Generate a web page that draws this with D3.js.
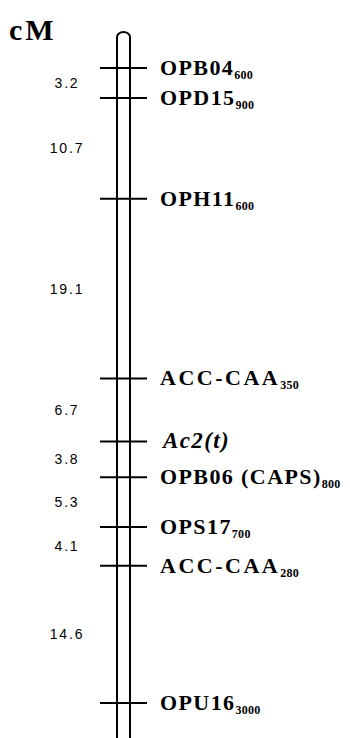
<!DOCTYPE html>
<html>
<head>
<meta charset="utf-8">
<script src="https://cdn.jsdelivr.net/npm/d3@7"></script>
<style>
  body { margin: 0; background: #fff; }
  svg { display: block; }
</style>
</head>
<body>
<svg id="map"></svg>
<script>
// Linkage map data (marker names, fragment sizes, distances in cM)
const markerNames = ['OPB04', 'OPD15', 'OPH11', 'ACC-CAA', 'Ac2(t)', 'OPB06 (CAPS)', 'OPS17', 'ACC-CAA', 'OPU16'];
const fragmentSizes = ['600', '900', '600', '350', '', '800', '700', '280', '3000'];
const intervals = [3.2, 10.7, 19.1, 6.7, 3.8, 5.3, 4.1, 14.6];
const geneLocus = 'Ac2(t)';

const width = 350, height = 738;

const svg = d3.select('#map')
    .attr('width', width)
    .attr('height', height);

// cumulative positions of each marker
const positions = [0, ...d3.cumsum(intervals)];

const y = d3.scaleLinear()
    .domain([0, d3.max(positions)])
    .range([68, 703]);

const chrLeft = 117, chrRight = 130;

// unit label
svg.append('text')
    .attr('x', 9)
    .attr('y', 40)
    .attr('font-family', '"Liberation Serif", "Times New Roman", serif')
    .attr('font-weight', 'bold')
    .attr('font-size', 30)
    .attr('letter-spacing', 3)
    .text('cM');

// chromosome outline, open at the bottom
svg.append('path')
    .attr('d', `M${chrLeft},${height + 2} L${chrLeft},37 A6.5,5 0 0 1 ${chrRight},37 L${chrRight},${height + 2}`)
    .attr('fill', 'none')
    .attr('stroke', '#000')
    .attr('stroke-width', 2);

// marker ticks
svg.selectAll('.tick')
    .data(positions)
    .enter()
    .append('line')
    .attr('class', 'tick')
    .attr('x1', 100)
    .attr('x2', 147)
    .attr('y1', d => y(d))
    .attr('y2', d => y(d))
    .attr('stroke', '#000')
    .attr('stroke-width', 2);

// marker labels with fragment size subscripts
const labels = svg.selectAll('.marker')
    .data(markerNames)
    .enter()
    .append('text')
    .attr('class', 'marker')
    .attr('x', d => d === geneLocus ? 163 : 160)
    .attr('y', (d, i) => y(positions[i]) + 7)
    .attr('font-family', '"Liberation Serif", "Times New Roman", serif')
    .attr('font-weight', 'bold')
    .attr('font-size', 22)
    .attr('fill', '#000');

labels.append('tspan')
    .attr('font-style', d => d === geneLocus ? 'italic' : 'normal')
    .attr('font-size', d => d === geneLocus ? 23 : 22)
    .attr('letter-spacing', d => d.startsWith('ACC') ? 2.5 : 1.4)
    .text(d => d);

labels.append('tspan')
    .attr('dy', 4)
    .attr('font-size', 12)
    .attr('font-weight', 'bold')
    .attr('letter-spacing', 0.3)
    .text((d, i) => fragmentSizes[i]);

// interval distances, centred between neighbouring markers
svg.selectAll('.dist')
    .data(intervals)
    .enter()
    .append('text')
    .attr('class', 'dist')
    .attr('x', 67)
    .attr('y', (d, i) => (y(positions[i]) + y(positions[i + 1])) / 2 + 5)
    .attr('text-anchor', 'middle')
    .attr('font-family', '"Liberation Sans", Arial, sans-serif')
    .attr('font-size', 14)
    .attr('letter-spacing', 1.8)
    .attr('fill', '#000')
    .text(d => d.toFixed(1));
</script>
</body>
</html>
